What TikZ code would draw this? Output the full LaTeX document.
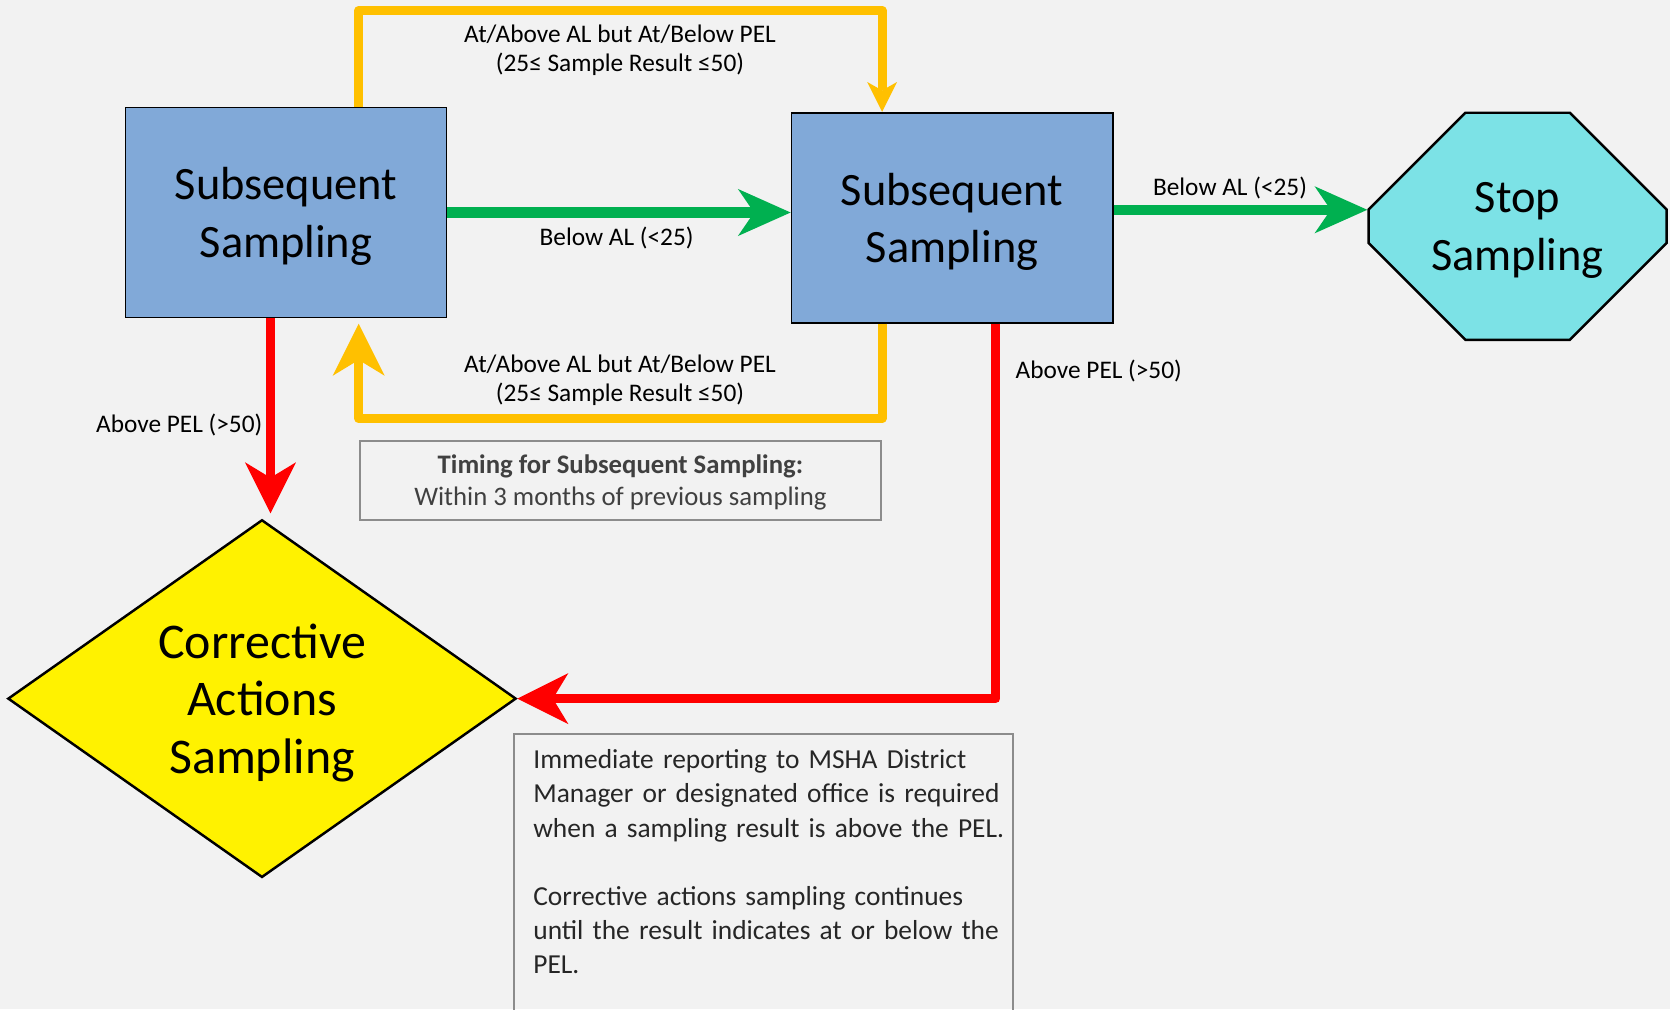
\documentclass[tikz,border=0pt]{standalone}
\usepackage{fontspec}
\setmainfont{Carlito}
\usetikzlibrary{arrows.meta,shapes.geometric,shapes.misc}

\definecolor{bgcol}{RGB}{242,242,242}
\definecolor{boxblue}{RGB}{129,169,216}
\definecolor{stopcyan}{RGB}{124,226,230}
\definecolor{gogreen}{RGB}{0,176,80}
\definecolor{waityellow}{RGB}{255,192,0}
\definecolor{pelred}{RGB}{255,0,0}
\definecolor{infotext}{RGB}{64,64,64}
\definecolor{notetext}{RGB}{38,38,38}
\definecolor{framegray}{RGB}{140,140,140}

\tikzset{
  sampbox/.style={draw=black, line width=0.5pt, fill=boxblue, minimum width=3.21cm, minimum height=2.10cm, align=center, text depth=-0.4pt, font=\fontsize{13.2}{16.4}\selectfont},
  stopbox/.style={chamfered rectangle, chamfered rectangle xsep=0.64cm, chamfered rectangle ysep=0.53cm, draw=black, line width=0.7pt, fill=stopcyan, minimum width=2.98cm, minimum height=2.27cm, inner sep=0pt, align=center, text depth=-1.6pt, font=\fontsize{13.2}{16.4}\selectfont},
  corrbox/.style={diamond, draw=black, line width=0.7pt, fill=yellow, minimum width=5.08cm, minimum height=3.535cm, inner sep=0pt, align=center, text depth=0pt, font=\fontsize{14.2}{16.4}\selectfont},
  infobox/.style={draw=framegray, line width=0.6pt, text=infotext, minimum width=5.21cm, minimum height=0.79cm, align=center, text depth=-4.4pt, font=\fontsize{7.6}{9.1}\selectfont},
  notebox/.style={draw=framegray, line width=0.6pt, text=notetext, text width=4.6cm, inner xsep=0.19cm, inner ysep=0.16cm, text depth=2.6cm, align=left, font=\fontsize{7.8}{9.7}\selectfont},
  lbl/.style={inner sep=0pt, align=center, font=\fontsize{7.2}{8.2}\selectfont},
  go/.style={gogreen, line width=3pt, -{Stealth[length=15pt, width=13.4pt, inset=4.6pt, line width=0pt]}},
  wait/.style={waityellow, line width=2.6pt, line join=round, -{Stealth[length=14.8pt, width=14.8pt, inset=4.5pt, line width=0pt]}},
  waitsmall/.style={waityellow, line width=2.6pt, line join=round, -{Stealth[length=8.5pt, width=8.5pt, inset=2.4pt, line width=0pt]}},
  pel/.style={pelred, line width=2.6pt, line join=round, -{Stealth[length=14.5pt, width=14.5pt, inset=4.4pt, line width=0pt]}}
}

\begin{document}
\begin{tikzpicture}[x=0.01cm, y=-0.01cm]
  \useasboundingbox (0,0) rectangle (1670,1009);
  \fill[bgcol] (0,0) rectangle (1670,1009);

  % steps
  \node[sampbox] (s1) at (286,212.5) {Subsequent\\Sampling};
  \node[sampbox] (s2) at (952.1,217.8) {Subsequent\\Sampling};
  \node[stopbox] (stop) at (1517.6,226.3) {Stop\\Sampling};
  \node[corrbox] (ca) at (262,698.6) {Corrective\\Actions\\Sampling};

  % notes
  \node[infobox] (info) at (620.4,480.3) {\textbf{Timing for Subsequent Sampling:}\\Within 3 months of previous sampling};
  \node[notebox, anchor=north west] (note) at (513.3,732.7) {\mbox{Immediate reporting to MSHA District}\\\mbox{Manager or designated office is required}\\\mbox{when a sampling result is above the PEL.}\\[9.7pt]\mbox{Corrective actions sampling continues}\\\mbox{until the result indicates at or below the}\\PEL.};

  \coordinate (topbend) at (620,10.6);
  \coordinate (lowbend) at (620,418.5);

  % arrows
  \draw[waitsmall] (s1.north -| info.west) |- (topbend) -| (s2.north -| info.east);
  \draw[wait, shorten >=1.5pt] (s2.south -| info.east) |- (lowbend) -| (s1.south -| info.west);
  \draw[go] (s1.east) -- (s1.east -| s2.west);
  \draw[go] ([yshift=0.08cm]s2.east) -- ([yshift=0.08cm]s2.east -| stop.west);
  \draw[pel, shorten >=1.5pt] ([xshift=-0.155cm]s1.south) -- ([xshift=-0.155cm]s1.south |- ca.north);
  \draw[pel] ([xshift=0.437cm]s2.south) |- (ca.east);

  % labels
  \node[lbl] (ltop) at (620,50.5) {At/Above AL but At/Below PEL\\(25≤ Sample Result ≤50)};
  \node[lbl] (lbot) at (620,380.6) {At/Above AL but At/Below PEL\\(25≤ Sample Result ≤50)};
  \node[lbl] (lgo1) at (616.6,238) {Below AL (<25)};
  \node[lbl] (lgo2) at (1230,187.5) {Below AL (<25)};
  \node[lbl, anchor=east] (lpel1) at (263,425) {Above PEL (>50)};
  \node[lbl, anchor=west] (lpel2) at (1015,370.6) {Above PEL (>50)};
\end{tikzpicture}
\end{document}
